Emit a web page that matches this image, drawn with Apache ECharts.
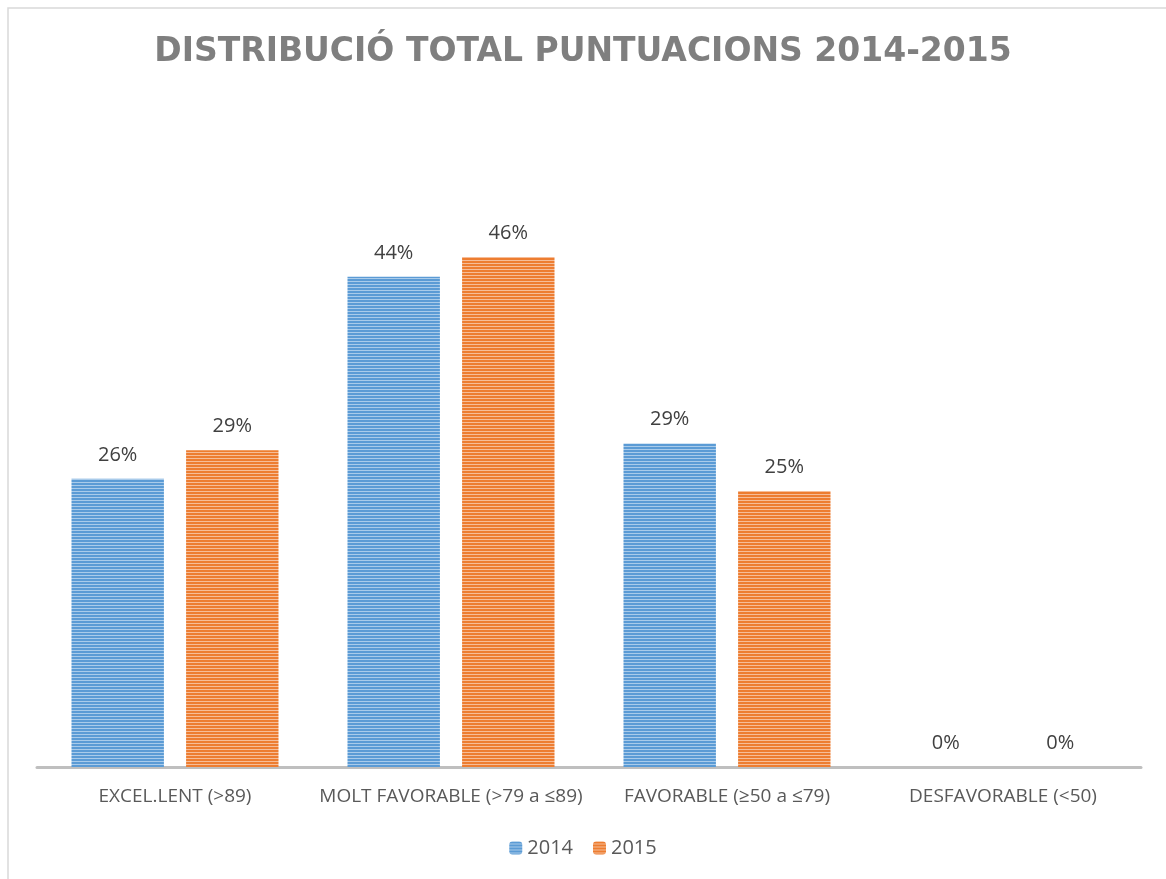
<!DOCTYPE html>
<html>
<head>
<meta charset="utf-8">
<script src="https://cdn.jsdelivr.net/npm/echarts@6/dist/echarts.min.js"></script>
<style>
  html, body { margin: 0; padding: 0; background: #fff; }
  #chart { width: 1166px; height: 879px; }
</style>
</head>
<body>
<div id="chart"></div>
<script>
const categories = ['EXCEL.LENT (>89)', 'MOLT FAVORABLE (>79 a ≤89)', 'FAVORABLE (≥50 a ≤79)', 'DESFAVORABLE (<50)']
const values2014 = [26.1, 44.4, 29.3, 0]
const values2015 = [28.7, 46.2, 25.0, 0]
const seriesNames = ['2014', '2015']

// striped fill like the original office chart
function stripes(color, light) {
  const c = document.createElement('canvas')
  c.width = 4
  c.height = 3
  const ctx = c.getContext('2d')
  ctx.fillStyle = color
  ctx.fillRect(0, 0, 4, 2)
  ctx.fillStyle = light
  ctx.fillRect(0, 2, 4, 1)
  return { image: c, repeat: 'repeat' }
}

const blue = stripes('#5B9BD5', '#A9CBEA')
const orange = stripes('#ED7D31', '#F6BD98')

function barSeries(name, data, fill) {
  return {
    name: name,
    type: 'bar',
    data: data,
    barGap: '24%',
    barCategoryGap: '25%',
    itemStyle: { color: fill },
    label: {
      show: true,
      position: 'top',
      distance: 14,
      color: '#404040',
      fontSize: 20,
      fontFamily: 'Open Sans',
      formatter: p => Math.round(p.value) + '%'
    }
  }
}

const chart = echarts.init(document.getElementById('chart'))
chart.setOption({
  animation: false,
  title: {
    text: 'DISTRIBUCIÓ TOTAL PUNTUACIONS 2014-2015',
    left: 'center',
    top: 31,
    textStyle: {
      color: '#7F7F7F',
      fontSize: 33,
      fontWeight: 'bold',
      fontFamily: 'DejaVu Sans'
    }
  },
  graphic: [
    {
      type: 'rect',
      shape: { x: 8, y: 8, width: 1200, height: 900 },
      style: { fill: 'none', stroke: '#D9D9D9', lineWidth: 1.5 },
      silent: true
    }
  ],
  legend: {
    data: seriesNames,
    bottom: 16,
    left: 'center',
    itemWidth: 13,
    itemHeight: 13,
    itemGap: 20,
    textStyle: { color: '#595959', fontSize: 20, fontFamily: 'Open Sans' }
  },
  grid: { left: 37, right: 25, top: 215, bottom: 112 },
  xAxis: {
    type: 'category',
    data: categories,
    axisLine: { lineStyle: { color: '#BFBFBF', width: 3 } },
    axisTick: { show: false },
    axisLabel: {
      color: '#595959',
      fontSize: 19,
      fontFamily: 'Open Sans',
      margin: 20,
      interval: 0
    }
  },
  yAxis: {
    type: 'value',
    min: 0,
    max: 50,
    show: false,
    splitLine: { show: false }
  },
  series: [
    barSeries(seriesNames[0], values2014, blue),
    barSeries(seriesNames[1], values2015, orange)
  ]
})
</script>
</body>
</html>
